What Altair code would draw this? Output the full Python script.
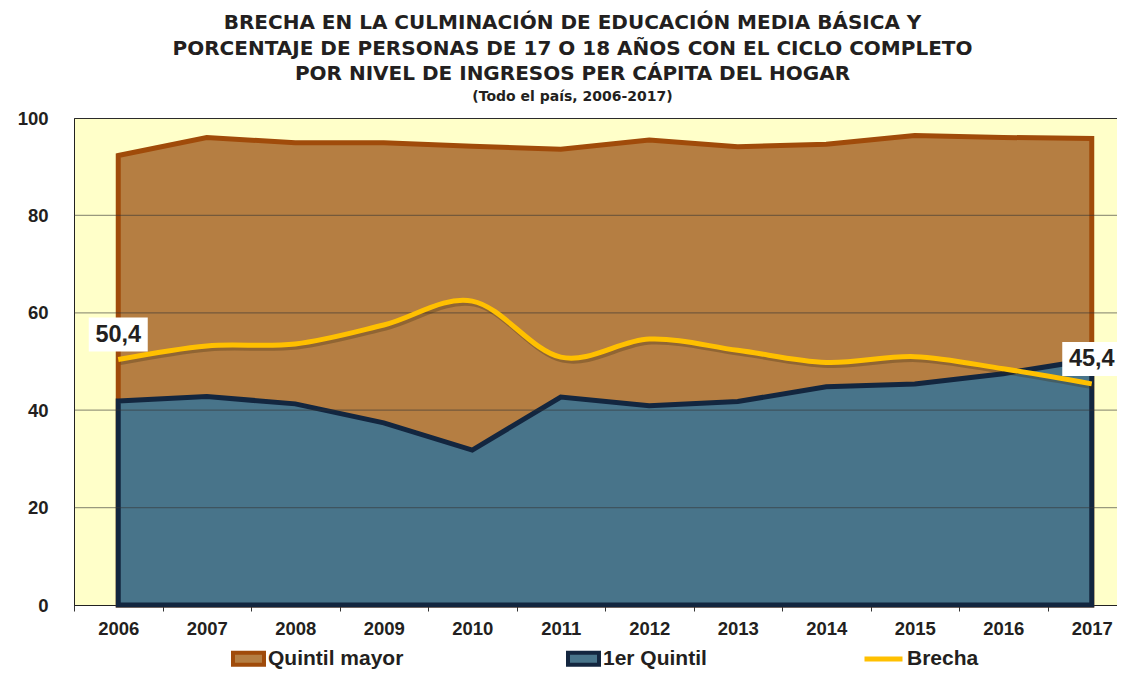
import altair as alt
import pandas as pd

# ---- data ----
years = [str(y) for y in range(2006, 2018)]
quintil_mayor = [92.3, 96.0, 94.9, 94.9, 94.2, 93.6, 95.5, 94.1, 94.6, 96.4, 96.0, 95.8]
primer_quintil = [41.9, 42.8, 41.3, 37.4, 31.8, 42.7, 40.9, 41.8, 44.8, 45.4, 47.5, 50.4]
brecha = [50.4, 53.2, 53.6, 57.5, 62.4, 50.9, 54.6, 52.3, 49.8, 51.0, 48.5, 45.4]
series_names = ["Quintil mayor", "1er Quintil", "Brecha"]
label_years = ["2006", "2017"]
y_ticks = [0, 20, 40, 60, 80, 100]
grid_values = [20, 40, 60, 80]
title_lines = [
    "BRECHA EN LA CULMINACIÓN DE EDUCACIÓN MEDIA BÁSICA Y",
    "PORCENTAJE DE PERSONAS DE 17 O 18 AÑOS CON EL CICLO COMPLETO",
    "POR  NIVEL DE INGRESOS PER CÁPITA  DEL HOGAR",
]
subtitle = "(Todo el país, 2006-2017)"

# ---- tables ----
df_areas = pd.DataFrame({
    "anio": years * 2,
    "valor": quintil_mayor + primer_quintil,
    "serie": [series_names[0]] * len(years) + [series_names[1]] * len(years),
})
df_brecha = pd.DataFrame({"anio": years, "valor": brecha, "serie": series_names[2]})
df_lab = df_brecha[df_brecha["anio"].isin(label_years)].copy()
df_lab["texto"] = df_lab["valor"].map(lambda v: f"{v:.1f}".replace(".", ","))
df_grid = pd.DataFrame({"valor": grid_values})

FONT = "Liberation Sans"
TXT = "#231F20"

x_enc = alt.X(
    "anio:O",
    bandPosition=0.5,
    scale=alt.Scale(type="band", range=[0, 1062], paddingInner=0, paddingOuter=0),
    axis=alt.Axis(
        title=None, labelAngle=0, tickBand="extent", ticks=True, tickSize=6,
        tickColor="#333333", domainColor="#222222", labelPadding=8,
        labelFont=FONT, labelFontSize=18.5, labelFontWeight="bold", labelColor=TXT,
        grid=False,
    ),
)
y_enc = alt.Y(
    "valor:Q",
    scale=alt.Scale(domain=[0, 100], nice=False),
    axis=alt.Axis(
        title=None, values=y_ticks, ticks=False, tickSize=0, labelPadding=26,
        domainColor="#222222", labelFont=FONT, labelFontSize=18.5,
        labelFontWeight="bold", labelColor=TXT, grid=False,
    ),
)

fill_scale = alt.Scale(domain=series_names[:2], range=["#B57E42", "#48748A"])
stroke_scale = alt.Scale(domain=series_names[:2], range=["#A04B0A", "#13263F"])
legend_areas = alt.Legend(
    title=None, orient="none", legendX=157, legendY=523, direction="horizontal",
    symbolType="M-1,-0.387H1V0.387H-1Z", symbolSize=961, symbolStrokeWidth=4,
    labelFont=FONT, labelFontSize=21, labelFontWeight="bold", labelColor=TXT,
    columnPadding=156, labelOffset=2,
)


def area_layer(name):
    return alt.Chart(df_areas[df_areas["serie"] == name]).mark_area(
        strokeWidth=5, strokeJoin="miter"
    ).encode(
        x=x_enc,
        y=y_enc,
        fill=alt.Fill("serie:N", scale=fill_scale, legend=legend_areas),
        stroke=alt.Stroke("serie:N", scale=stroke_scale, legend=legend_areas),
    )


grid = alt.Chart(df_grid).mark_rule(color="#333333", opacity=0.5, strokeWidth=1.2).encode(
    y=alt.Y("valor:Q", scale=alt.Scale(domain=[0, 100], nice=False))
)

shadow = alt.Chart(df_brecha).mark_line(
    color="#3a2a10", opacity=0.3, strokeWidth=5, interpolate="cardinal", xOffset=2, yOffset=3
).encode(x=x_enc, y=y_enc)

line = alt.Chart(df_brecha).mark_line(strokeWidth=5, interpolate="cardinal").encode(
    x=x_enc,
    y=y_enc,
    color=alt.Color(
        "serie:N",
        scale=alt.Scale(domain=[series_names[2]], range=["#FFC000"]),
        legend=alt.Legend(
            title=None, orient="none", legendX=788, legendY=519.5, direction="horizontal",
            symbolType="stroke", symbolSize=1444, symbolStrokeWidth=5,
            labelFont=FONT, labelFontSize=21, labelFontWeight="bold", labelColor=TXT,
            labelOffset=2,
        ),
    ),
)

boxes = alt.Chart(df_lab).mark_point(
    shape="M-1,-0.576H1V0.576H-1Z", size=3481, filled=True, color="white",
    opacity=1, yOffset=-25,
).encode(x=x_enc, y=y_enc)

labels = alt.Chart(df_lab).mark_text(
    font=FONT, fontSize=23.5, fontWeight="bold", color=TXT, dy=-25,
    align="center", baseline="middle",
).encode(x=x_enc, y=y_enc, text="texto:N")

chart = alt.layer(
    area_layer(series_names[0]), area_layer(series_names[1]), grid, shadow, line, boxes, labels
).properties(
    width=1043,
    height=487,
    autosize=alt.AutoSizeParams(type="none"),
    padding={"left": 66, "top": 110, "right": 0, "bottom": 66},
    background="white",
    title=alt.TitleParams(
        text=title_lines, subtitle=subtitle, anchor="middle", dx=-23, offset=5,
        font="DejaVu Sans", fontSize=20, fontWeight="bold", color=TXT, lineHeight=25.5,
        subtitleFont="DejaVu Sans", subtitleFontSize=14, subtitleFontWeight="bold",
        subtitleColor=TXT, subtitlePadding=6,
    ),
).configure_view(fill="#FFFFC9", stroke="#2b2b2b", strokeWidth=1)

chart.save("out.html", embed_options={"renderer": "svg", "actions": False})
